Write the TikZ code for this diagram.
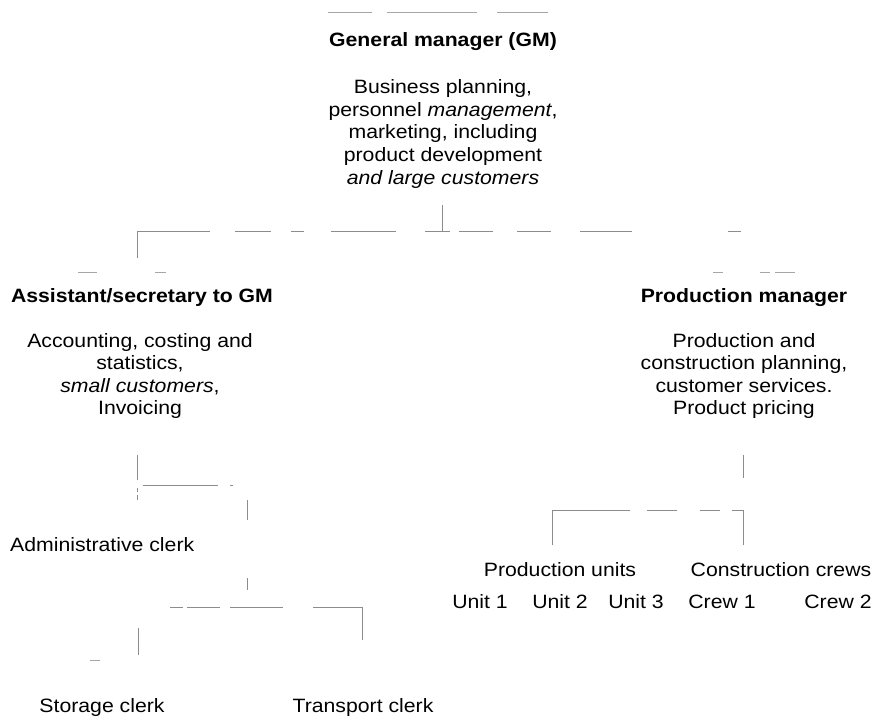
\documentclass[tikz,border=0pt]{standalone}
\usepackage{fontspec}
\setmainfont{Liberation Sans}[FakeStretch=1.1]
\begin{document}
\begin{tikzpicture}[x=1pt,y=-1pt,
  lbl/.style={inner sep=0pt, align=center, font=\fontsize{19.3}{22.6}\selectfont},
  head/.style={inner sep=0pt, align=center, font=\fontsize{19.3}{22.6}\selectfont\bfseries},
  conn/.style={draw=black!45, line width=0.8pt},
  scrap/.style={draw=black!35, line width=0.7pt}]
\useasboundingbox (0,0) rectangle (876,723);

% ---- top level
\node[head] (gmtitle) at (443,42) {General manager (GM)};
\node[lbl] (gmbody) at (443,134) {Business planning,\\
  personnel \textit{management},\\
  marketing, including\\
  product development\\
  \textit{and large customers}};

% ---- second level
\node[head] (astitle) at (142,298) {Assistant/secretary to GM};
\node[lbl] (asbody) at (140,376) {Accounting, costing and\\
  statistics,\\
  \textit{small customers},\\
  Invoicing};

\node[head] (pmtitle) at (744,298) {Production manager};
\node[lbl] (pmbody) at (744,376) {Production and\\
  construction planning,\\
  customer services.\\
  Product pricing};

% ---- staff under the assistant
\node[lbl, anchor=west] (admin) at (10,545) {Administrative clerk};
\node[lbl] (storage) at (102,708) {Storage clerk};
\node[lbl] (transport) at (363,708) {Transport clerk};

% ---- units under the production manager
\node[lbl] (produnits) at (560,570) {Production units};
\node[lbl] (crews) at (781,570) {Construction crews};
\node[lbl] (unit1) at (480,602) {Unit 1};
\node[lbl] (unit2) at (560,602) {Unit 2};
\node[lbl] (unit3) at (636,602) {Unit 3};
\node[lbl] (crew1) at (722,602) {Crew 1};
\node[lbl] (crew2) at (838,602) {Crew 2};

% ---- junction points of the tree
\coordinate (gmtop) at (442,205);
\coordinate (gmdrop) at (442,231);
\coordinate (asdrop) at (137,231);
\coordinate (ashang) at (137,258);
\coordinate (pmdrop) at (743,231);

\coordinate (astop) at (137,455);
\coordinate (adminhang) at (137,500);
\coordinate (asbranch) at (137,485);
\coordinate (clerkcorner) at (247,485);
\coordinate (clerkdrop) at (247,607);
\coordinate (storagecorner) at (138,607);
\coordinate (storagehang) at (138,655);
\coordinate (transportcorner) at (362,607);
\coordinate (transporthang) at (362,640);

\coordinate (pmtop) at (743,455);
\coordinate (pmbranch) at (743,510);
\coordinate (unitscorner) at (552,510);
\coordinate (unitshang) at (552,545);
\coordinate (crewshang) at (743,545);

% ---- worn connector lines
\draw[conn] (gmtop) -- (gmdrop);
\draw[conn, dash pattern=on 100pt off 25pt on 36pt off 20pt on 13pt off 27pt on 65pt off 29pt on 25pt off 9pt on 34pt off 24pt on 34pt off 29pt on 52pt off 96pt on 13pt]
  (ashang) -- (asdrop) -- (pmdrop);

\draw[conn, dash pattern=on 25pt off 8pt on 4pt off 3pt on 5pt]
  (astop) -- (adminhang);
\draw[conn, dash pattern=on 0pt off 6pt on 75pt off 12pt on 3pt off 29pt on 20pt off 58pt on 12pt off 17pt]
  (asbranch) -- (clerkcorner) -- (clerkdrop);
\draw[conn, dash pattern=on 27pt off 53pt on 13pt off 4pt on 33pt off 10pt on 53pt off 30pt on 82pt]
  (storagehang) -- (storagecorner) -- (transportcorner) -- (transporthang);

\draw[conn, dash pattern=on 23pt off 32pt] (pmtop) -- (pmbranch);
\draw[conn, dash pattern=on 113pt off 17pt on 30pt off 23pt on 20pt off 12pt on 46pt]
  (unitshang) -- (unitscorner) -- (pmbranch) -- (crewshang);

% ---- stray rule fragments
\draw[scrap, dash pattern=on 44pt off 15pt on 90pt off 20pt on 51pt] (328,12) -- (548,12);
\draw[scrap] (78,272) -- (97,272);
\draw[scrap] (155,272) -- (166,272);
\draw[scrap] (713,272) -- (723,272);
\draw[scrap] (760,272) -- (770,272);
\draw[scrap] (775,272) -- (795,272);
\draw[scrap] (90,660) -- (100,660);
\end{tikzpicture}
\end{document}
